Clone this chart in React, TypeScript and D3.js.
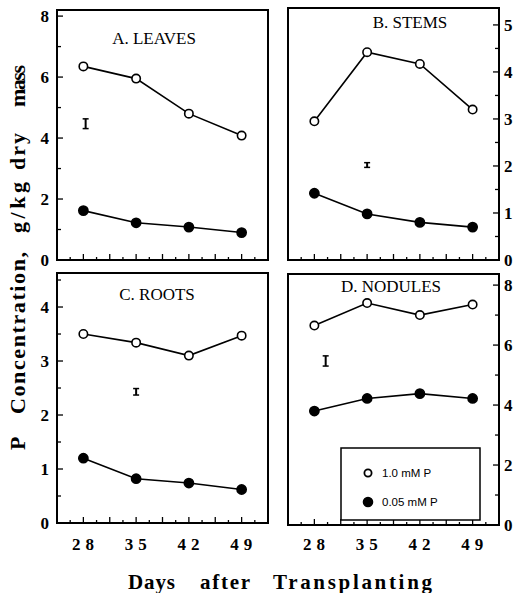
import React, { useEffect, useRef } from 'react';
import * as d3 from 'd3';

// Days after transplanting
const days = [28, 35, 42, 49];
const seriesNames = ['1.0 mM P', '0.05 mM P'];

// P concentration, g/kg dry mass
const leavesHigh = [6.35, 5.95, 4.8, 4.08];
const leavesLow = [1.62, 1.22, 1.08, 0.9];
const stemsHigh = [2.95, 4.42, 4.17, 3.2];
const stemsLow = [1.42, 0.98, 0.8, 0.7];
const rootsHigh = [3.5, 3.34, 3.1, 3.47];
const rootsLow = [1.2, 0.82, 0.74, 0.62];
const nodulesHigh = [6.65, 7.4, 7.0, 7.35];
const nodulesLow = [3.8, 4.22, 4.38, 4.22];

// error bars: [day, centre, half length]
const leavesErr = [28.3, 4.47, 0.16];
const stemsErr = [35, 2.02, 0.05];
const rootsErr = [35, 2.43, 0.06];
const nodulesErr = [29.5, 5.47, 0.17];

const serif = '"Liberation Serif", "DejaVu Serif", serif';

const App = () => {
  const ref = useRef<SVGSVGElement>(null);

  useEffect(() => {
    const svg = d3.select(ref.current);
    svg.selectAll('*').remove();

    const panels = [
      { title: 'A. LEAVES', hi: leavesHigh, lo: leavesLow, err: leavesErr, yMax: 8.2, ticks: [0, 2, 4, 6, 8], minor: 1, side: 'left',
        x0: 57, x1: 268, y0: 10, y1: 260, tx: 154, ty: 44 },
      { title: 'B. STEMS', hi: stemsHigh, lo: stemsLow, err: stemsErr, yMax: 5.36, ticks: [0, 1, 2, 3, 4, 5], minor: 0.5, side: 'right',
        x0: 288, x1: 499, y0: 8, y1: 260, tx: 410, ty: 28 },
      { title: 'C. ROOTS', hi: rootsHigh, lo: rootsLow, err: rootsErr, yMax: 4.63, ticks: [0, 1, 2, 3, 4], minor: 0.5, side: 'left',
        x0: 57, x1: 268, y0: 273, y1: 523, tx: 157, ty: 300 },
      { title: 'D. NODULES', hi: nodulesHigh, lo: nodulesLow, err: nodulesErr, yMax: 8.37, ticks: [0, 2, 4, 6, 8], minor: 1, side: 'right',
        x0: 288, x1: 499, y0: 274, y1: 525, tx: 391, ty: 292 },
    ];

    panels.forEach((p, pi) => {
      const g = svg.append('g');
      const x = d3.scaleLinear().domain([24.5, 52.5]).range([p.x0, p.x1]);
      const y = d3.scaleLinear().domain([0, p.yMax]).range([p.y1, p.y0]);

      // frame
      g.append('rect')
        .attr('x', p.x0).attr('y', p.y0)
        .attr('width', p.x1 - p.x0).attr('height', p.y1 - p.y0)
        .attr('fill', 'none').attr('stroke', '#000').attr('stroke-width', 2);

      // x ticks (inward), every 1.75 days
      const xt = d3.range(26.25, 52.5, 1.75);
      g.selectAll('line.xt').data(xt).enter().append('line')
        .attr('x1', d => x(d)).attr('x2', d => x(d))
        .attr('y1', p.y1).attr('y2', (d, i) => p.y1 - (i % 2 === 1 ? 6 : 3))
        .attr('stroke', '#000').attr('stroke-width', 1.3);

      // y ticks (inward)
      const ax = p.side === 'left' ? p.x0 : p.x1;
      const dir = p.side === 'left' ? 1 : -1;
      const yt = d3.range(0, p.yMax, p.minor);
      g.selectAll('line.yt').data(yt).enter().append('line')
        .attr('x1', ax).attr('x2', d => ax + dir * (p.ticks.includes(d) ? 6 : 4))
        .attr('y1', d => y(d)).attr('y2', d => y(d))
        .attr('stroke', '#000').attr('stroke-width', 1.3);

      g.selectAll('text.yl').data(p.ticks).enter().append('text')
        .attr('x', p.side === 'left' ? ax - 8 : ax + 5)
        .attr('y', d => y(d))
        .attr('dy', '0.35em')
        .attr('text-anchor', p.side === 'left' ? 'end' : 'start')
        .attr('font-family', serif)
        .attr('font-weight', 'bold')
        .attr('font-size', 17)
        .text(d => d);

      // x tick labels on bottom panels
      if (pi >= 2) {
        g.selectAll('text.xl').data(days).enter().append('text')
          .attr('x', d => x(d) + 2)
          .attr('y', 550)
          .attr('text-anchor', 'middle')
          .attr('font-family', serif)
          .attr('font-weight', 'bold')
          .attr('font-size', 17)
          .attr('letter-spacing', 5)
          .text(d => d);
      }

      // title
      g.append('text')
        .attr('x', p.tx).attr('y', p.ty)
        .attr('text-anchor', 'middle')
        .attr('font-family', serif)
        .attr('font-size', 17)
        .text(p.title);

      // error bar
      const [ed, ec, eh] = p.err;
      const ex = x(ed);
      g.append('line').attr('x1', ex).attr('x2', ex)
        .attr('y1', y(ec - eh)).attr('y2', y(ec + eh))
        .attr('stroke', '#000').attr('stroke-width', 2);
      [ec - eh, ec + eh].forEach(v => {
        g.append('line').attr('x1', ex - 3).attr('x2', ex + 3)
          .attr('y1', y(v)).attr('y2', y(v))
          .attr('stroke', '#000').attr('stroke-width', 1.5);
      });

      // lines and markers
      const line = d3.line<number>().x((d, i) => x(days[i])).y(d => y(d));
      [p.hi, p.lo].forEach((vals, si) => {
        g.append('path').datum(vals)
          .attr('d', line)
          .attr('fill', 'none').attr('stroke', '#000').attr('stroke-width', 1.6);
        g.selectAll(`circle.s${si}`).data(vals).enter().append('circle')
          .attr('cx', (d, i) => x(days[i]))
          .attr('cy', d => y(d))
          .attr('r', si === 0 ? 4.2 : 4.6)
          .attr('fill', si === 0 ? '#fff' : '#000')
          .attr('stroke', '#000').attr('stroke-width', 1.6);
      });
    });

    // legend
    const lg = svg.append('g');
    lg.append('rect').attr('x', 341).attr('y', 448).attr('width', 139).attr('height', 72)
      .attr('fill', '#fff').attr('stroke', '#000').attr('stroke-width', 1.5);
    seriesNames.forEach((name, i) => {
      const cy = 473 + i * 29;
      lg.append('circle').attr('cx', 368).attr('cy', cy).attr('r', i === 0 ? 3.6 : 4.4)
        .attr('fill', i === 0 ? '#fff' : '#000').attr('stroke', '#000').attr('stroke-width', 1.8);
      lg.append('text').attr('x', 382).attr('y', cy).attr('dy', '0.35em')
        .attr('font-family', '"Liberation Sans", Arial, sans-serif')
        .attr('font-size', 11.5)
        .text(name);
    });

    // x axis title, word by word: [word, start x, width]
    const xWords: [string, number, number][] = [['Days', 128, 47], ['after', 200, 50], ['Transplanting', 273, 159]];
    svg.selectAll('text.xw').data(xWords).enter().append('text')
      .attr('x', d => d[1]).attr('y', 589)
      .attr('textLength', d => d[2])
      .attr('lengthAdjust', 'spacing')
      .attr('font-family', serif)
      .attr('font-weight', 'bold')
      .attr('font-size', 21)
      .text(d => d[0]);

    // y axis title, word by word (rotated): [word, bottom y, top y]
    const yWords: [string, number, number][] = [
      ['P', 450, 434], ['Concentration,', 414, 252], ['g/kg', 233, 182], ['dry', 170, 133], ['mass', 107, 65],
    ];
    svg.selectAll('text.yw').data(yWords).enter().append('text')
      .attr('transform', d => `translate(25,${d[1]}) rotate(-90)`)
      .attr('textLength', d => d[1] - d[2])
      .attr('lengthAdjust', 'spacing')
      .attr('font-family', serif)
      .attr('font-weight', 'bold')
      .attr('font-size', 22)
      .text(d => d[0]);

    return () => {
      d3.select(ref.current).selectAll('*').remove();
    };
  }, []);

  return (
    <svg ref={ref} width={518} height={593}
      style={{ position: 'absolute', left: 0, top: 0, background: '#fff' }} />
  );
};

export default App;
